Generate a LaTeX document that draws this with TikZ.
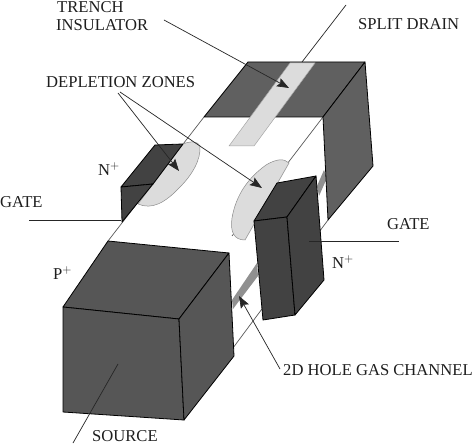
\documentclass[tikz,border=0pt]{standalone}
\usepackage{fontspec}
\setmainfont{Liberation Serif}
\usetikzlibrary{arrows.meta}
\definecolor{cubegrey}{HTML}{565656}
\definecolor{draingrey}{HTML}{606060}
\definecolor{gategrey}{HTML}{424242}
\definecolor{lightgrey}{HTML}{DCDCDC}
\definecolor{changrey}{HTML}{909090}
\definecolor{inkgrey}{HTML}{1E1E1E}
\tikzset{
  label text/.style={inner sep=0pt,font=\fontsize{16.6pt}{18pt}\selectfont,text=inkgrey},
  solid face/.style={draw=black,line width=0.8pt,line join=round},
  thin edge/.style={draw=black!65,line width=0.7pt},
  leader/.style={draw=black!85,line width=0.7pt},
  pointer/.style={leader,-{Stealth[length=12pt,width=9pt,inset=2pt]}},
}
\begin{document}
\begin{tikzpicture}[x=1pt,y=-1pt]
\useasboundingbox (0,0) rectangle (474,446);
\fill[white] (0,0) rectangle (474,446);
% thin body edges
\draw[thin edge] (108,241) -- (204,117);
\draw[thin edge] (323,117) -- (232,236);
\draw[thin edge] (328,220) -- (230,352);
% channel
\fill[changrey] (324,170) -- (327,178) -- (319,196) -- (317,186) -- cycle;
\fill[changrey] (257,263) -- (258,276) -- (233,309) -- (232,300) -- cycle;
% depletion zones
\path[fill=lightgrey,draw=black!45,line width=0.5pt] (183,144) .. controls (190,141) and (198,141) .. (200,146)
  .. controls (201,160) and (192,175) .. (180,187) .. controls (165,203) and (152,210) .. (138,204) -- cycle;
\path[fill=lightgrey,draw=black!45,line width=0.5pt] (289,163) .. controls (284,158) and (276,159) .. (266,165)
  .. controls (248,178) and (236,195) .. (232,218) .. controls (230,232) and (234,240) .. (245,240) -- cycle;
% drain
\path[solid face,fill=draingrey] (248,62) -- (365,62) -- (323,117) -- (204,117) -- cycle;
\path[solid face,fill=draingrey] (365,62) -- (373,166) -- (328,220) -- (323,117) -- cycle;
\path[fill=lightgrey,draw=black!35,line width=0.5pt] (290,63) -- (315,63) -- (254,146) -- (229,146) -- cycle;
% left gate
\path[solid face,fill=gategrey] (155,145) -- (183,144) -- (153,184) -- (121,187) -- cycle;
\path[solid face,fill=gategrey] (121,187) -- (153,184) -- (122,222) -- cycle;
% right gate
\path[solid face,fill=gategrey] (254,221) -- (277,183) -- (316,176) -- (287,217) -- cycle;
\path[solid face,fill=gategrey] (254,221) -- (287,217) -- (295,315) -- (263,320) -- cycle;
\path[solid face,fill=gategrey] (287,217) -- (316,176) -- (324,280) -- (295,315) -- cycle;
% source
\path[solid face,fill=cubegrey] (108,241) -- (229,253) -- (179,319) -- (63,307) -- cycle;
\path[solid face,fill=cubegrey] (63,307) -- (179,319) -- (184,420) -- (63,412) -- cycle;
\path[solid face,fill=cubegrey] (229,253) -- (234,356) -- (184,420) -- (179,319) -- cycle;
% labels
\node[label text,anchor=base west] (trench) at (57,12.5) {TRENCH};
\node[label text,anchor=base west] (insulator) at (56,31) {INSULATOR};
\node[label text,anchor=base west] (depl) at (46,88) {DEPLETION ZONES};
\node[label text,anchor=base west] (split) at (358,30) {SPLIT DRAIN};
\node[label text,anchor=base west] (gateL) at (0,208) {GATE};
\node[label text,anchor=base west] (gateR) at (387,230) {GATE};
\node[label text,anchor=base west] (nL) at (98,176) {N$^{+}$};
\node[label text,anchor=base west] (nR) at (332,269) {N$^{+}$};
\node[label text,anchor=base west] (p) at (53,280) {P$^{+}$};
\node[label text,anchor=base west] (source) at (92,441.5) {SOURCE};
\node[label text,anchor=base west] (hole) at (283,375) {2D HOLE GAS CHANNEL};
% leader ends
\coordinate (trenchS) at (164,20);
\coordinate (trenchE) at (289,88);
\coordinate (splitS) at (346,5);
\coordinate (splitE) at (302,62);
\coordinate (deplA) at (118,93);
\coordinate (deplB) at (120,92);
\coordinate (deplAE) at (179,171);
\coordinate (deplBE) at (262,188);
\coordinate (srcS) at (73,443);
\coordinate (srcE) at (118,364);
\coordinate (gLS) at (29,220);
\coordinate (gLE) at (121,220);
\coordinate (gRS) at (309,241);
\coordinate (gRE) at (399,241);
\coordinate (holeS) at (280,369);
\coordinate (holeE) at (239,296);
\draw[pointer] (trenchS) -- (trenchE);
\draw[leader] (splitS) -- (splitE);
\draw[pointer] (deplA) -- (deplAE);
\draw[pointer] (deplB) -- (deplBE);
\draw[leader] (srcS) -- (srcE);
\draw[leader,line width=0.9pt] (gLS) -- (gLE);
\draw[leader,line width=0.9pt] (gRS) -- (gRE);
\draw[pointer] (holeS) -- (holeE);
\end{tikzpicture}
\end{document}
